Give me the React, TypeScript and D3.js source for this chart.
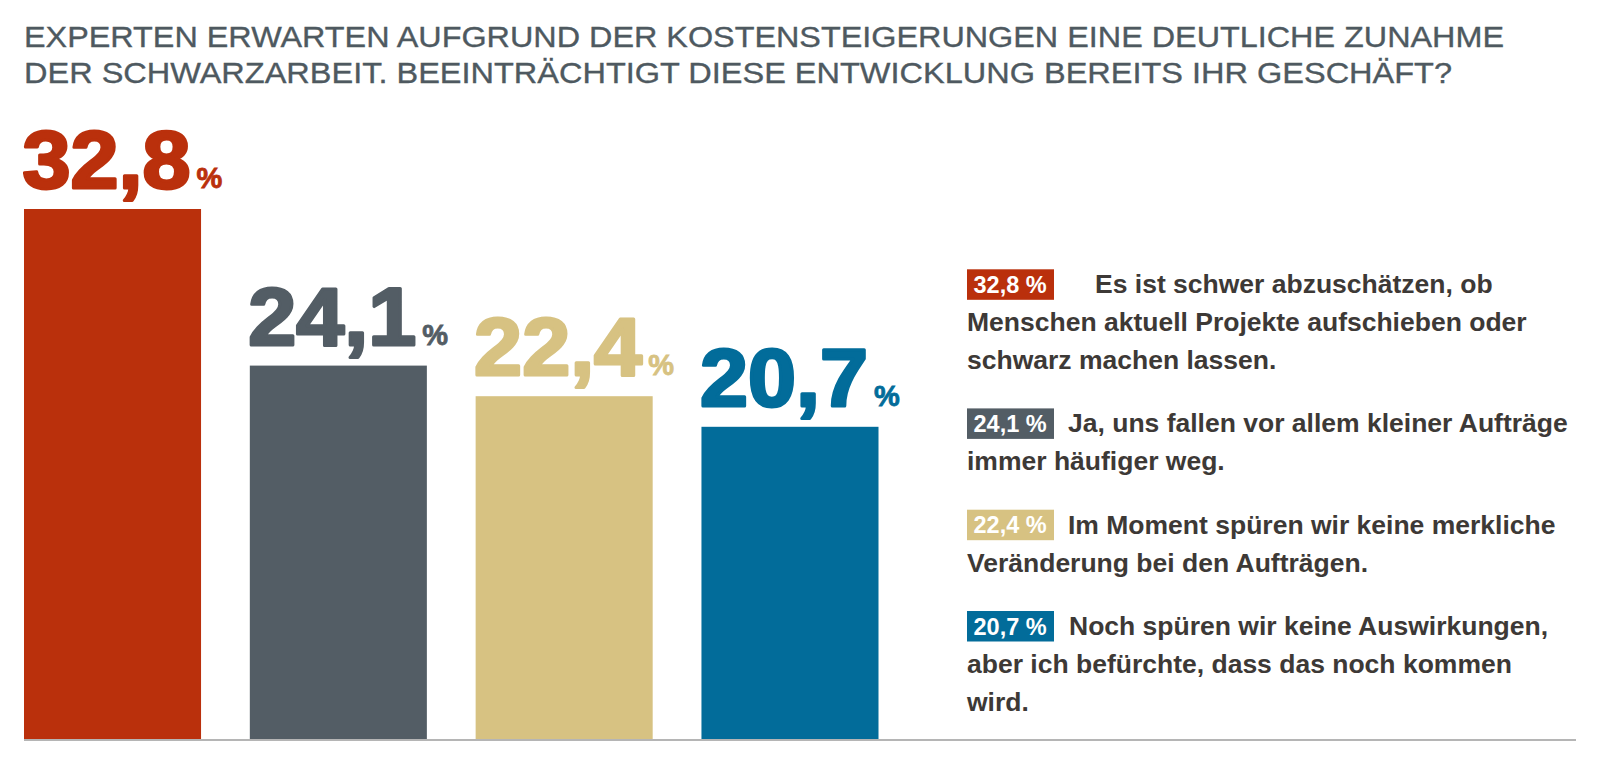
import React from "react";
import * as d3 from "d3";

const titleLines = [
  "EXPERTEN ERWARTEN AUFGRUND DER KOSTENSTEIGERUNGEN EINE DEUTLICHE ZUNAHME",
  "DER SCHWARZARBEIT. BEEINTRÄCHTIGT DIESE ENTWICKLUNG BEREITS IHR GESCHÄFT?",
];
const categories = ["schwer abzuschätzen", "ja", "keine Veränderung", "noch keine Auswirkungen"];
const values = [32.8, 24.1, 22.4, 20.7];
const valueLabels = ["32,8", "24,1", "22,4", "20,7"];
const badgeLabels = ["32,8 %", "24,1 %", "22,4 %", "20,7 %"];
const colors = ["#BA300C", "#535D65", "#D7C282", "#026C9A"];
const legendLines = [
  ["Es ist schwer abzuschätzen, ob", "Menschen aktuell Projekte aufschieben oder", "schwarz machen lassen."],
  ["Ja, uns fallen vor allem kleiner Aufträge", "immer häufiger weg."],
  ["Im Moment spüren wir keine merkliche", "Veränderung bei den Aufträgen."],
  ["Noch spüren wir keine Auswirkungen,", "aber ich befürchte, dass das noch kommen", "wird."],
];
const legendFirstIndent = [128, 101, 101, 102];

const W = 1600;
const H = 761;
const baseY = 740;

export default function App() {
  const x = d3
    .scaleBand<string>()
    .domain(categories)
    .range([24, 878.5])
    .paddingInner(0.216)
    .paddingOuter(0);
  const y = d3.scaleLinear().domain([3.3, 32.8]).range([baseY, 209]);

  const bigFont = "'Liberation Sans', Arial, sans-serif";
  const textFont = "'Liberation Sans', Arial, sans-serif";

  // legend layout
  const lineH = 37.8;
  const blockGap = 63.5;
  const legendStartY = 293.3;
  let cursor = legendStartY;
  const legendBlocks = legendLines.map((lines, i) => {
    const firstBase = cursor;
    cursor = firstBase + (lines.length - 1) * lineH + blockGap;
    return { lines, firstBase, i };
  });

  return (
    <svg
      width={W}
      height={H}
      style={{ position: "absolute", left: 0, top: 0, background: "#fff" }}
    >
      <rect x={0} y={0} width={W} height={H} fill="#fff" />
      {titleLines.map((t, i) => (
        <text
          key={i}
          x={24}
          y={47 + i * 36}
          fontFamily={textFont}
          fontSize={30}
          fill="#4E5960"
          stroke="#4E5960"
          strokeWidth={0.35}
          textLength={i === 0 ? 1480 : 1428}
          lengthAdjust="spacingAndGlyphs"
        >
          {t}
        </text>
      ))}

      {categories.map((c, i) => {
        const bx = x(c)!;
        const by = y(values[i]);
        return (
          <g key={c}>
            <rect x={bx} y={by} width={x.bandwidth()} height={baseY - by} fill={colors[i]} />
            <text
              x={bx - 1.5}
              y={by - 21}
              fontFamily={bigFont}
              fontWeight={700}
              fontSize={81}
              fill={colors[i]}
              stroke={colors[i]}
              strokeWidth={3}
              strokeLinejoin="round"
              textLength={168}
              lengthAdjust="spacingAndGlyphs"
            >
              {valueLabels[i]}
            </text>
            <text
              x={bx - 1.5 + 174}
              y={by - 21}
              fontFamily={bigFont}
              fontWeight={700}
              fontSize={29}
              fill={colors[i]}
              stroke={colors[i]}
              strokeWidth={0.8}
            >
              %
            </text>
          </g>
        );
      })}

      <line x1={24} x2={1576} y1={baseY} y2={baseY} stroke="#B5B5B5" strokeWidth={2} />

      {legendBlocks.map(({ lines, firstBase, i }) => (
        <g key={i}>
          <rect x={967} y={firstBase - 24} width={87} height={30.5} fill={colors[i]} />
          <text
            x={973.5}
            y={firstBase - 0.5}
            fontFamily={textFont}
            fontWeight={700}
            fontSize={23.5}
            fill="#fff"
          >
            {badgeLabels[i]}
          </text>
          {lines.map((l, j) => (
            <text
              key={j}
              x={j === 0 ? 967 + legendFirstIndent[i] : 967}
              y={firstBase + j * lineH}
              fontFamily={textFont}
              fontWeight={700}
              fontSize={26.5}
              fill="#3D3936"
            >
              {l}
            </text>
          ))}
        </g>
      ))}
    </svg>
  );
}
